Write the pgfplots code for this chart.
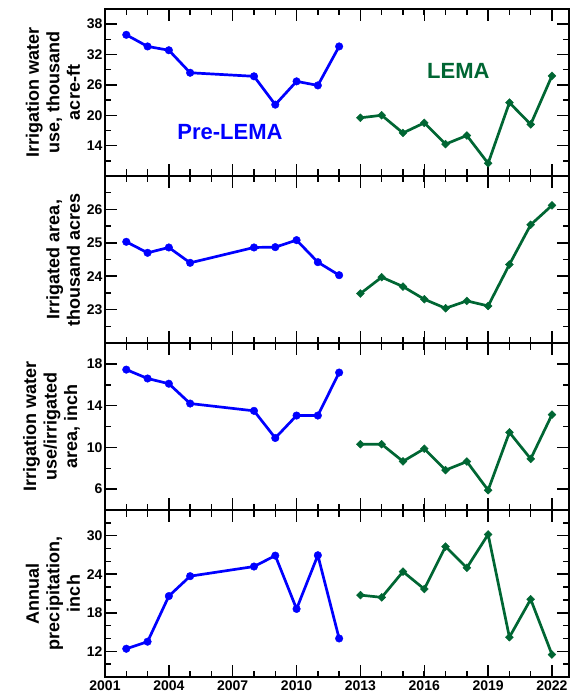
\documentclass[border=0pt]{standalone}
\usepackage{fontspec}
\setmainfont{Liberation Sans}
\usepackage{pgfplots}
\pgfplotsset{compat=1.18}
\usepgfplotslibrary{groupplots}
\definecolor{lemagreen}{RGB}{0,102,51}
\definecolor{preblue}{RGB}{0,0,255}
\begin{document}
\begin{tikzpicture}
\begin{groupplot}[
  group style={group name=G, group size=1 by 4, vertical sep=0pt, x descriptions at=edge bottom},
  width=464pt, height=167pt, scale only axis,
  xmin=2001, xmax=2022.8,
  xtick={2001,2004,...,2022}, minor xtick={2001,...,2022},
  tick align=inside, major tick length=12pt, minor tick length=6.5pt,
  axis line style={line width=2pt},
  tick style={line width=1.5pt, black},
  /pgf/number format/assume math mode=true,
  xticklabel={\textbf{\pgfmathprintnumber[assume math mode=true,1000 sep={}]{\tick}}},
  yticklabel={\textbf{\pgfmathprintnumber[assume math mode=true]{\tick}}},
  xticklabel style={font=\fontsize{14}{16}\selectfont\bfseries},
  yticklabel style={font=\fontsize{14}{16}\selectfont\bfseries, xshift=1pt},
  ylabel style={align=center, font=\fontsize{18}{20.5}\selectfont\bfseries},
  blueline/.style={preblue, line width=2.7pt, mark=*, mark size=3.8pt, mark options={solid, line width=0.4pt}},
  greenline/.style={lemagreen, line width=2.7pt, mark=square*, mark size=2.8pt, mark options={solid, rotate=45, line width=0.4pt}},
]
% Panel 1
\nextgroupplot[ymin=8, ymax=41, ytick={14,20,...,38}, minor ytick={11,17,...,41},
  ylabel={Irrigation water\\use, thousand\\acre-ft}]
\addplot[blueline] coordinates {(2002,35.9) (2003,33.6) (2004,32.85) (2005,28.4) (2008,27.7) (2009,22.1) (2010,26.7) (2011,25.9) (2012,33.6)};
\addplot[greenline] coordinates {(2013,19.5) (2014,20.0) (2015,16.5) (2016,18.5) (2017,14.3) (2018,16.0) (2019,10.5) (2020,22.5) (2021,18.2) (2022,27.8)};
\node[preblue, font=\fontsize{22}{24}\selectfont\bfseries] at (axis cs:2006.87,16.6) {Pre-LEMA};
\node[lemagreen, font=\fontsize{22}{24}\selectfont\bfseries] at (axis cs:2017.6,28.7) {LEMA};
% Panel 2
\nextgroupplot[ymin=22, ymax=27, ytick={23,24,25,26}, minor ytick={22.5,23.5,...,26.5},
  ylabel={Irrigated area,\\thousand acres}]
\addplot[blueline] coordinates {(2002,25.03) (2003,24.70) (2004,24.86) (2005,24.40) (2008,24.86) (2009,24.87) (2010,25.08) (2011,24.42) (2012,24.03)};
\addplot[greenline] coordinates {(2013,23.48) (2014,23.97) (2015,23.69) (2016,23.31) (2017,23.04) (2018,23.26) (2019,23.11) (2020,24.35) (2021,25.54) (2022,26.12)};
% Panel 3
\nextgroupplot[ymin=4, ymax=20, ytick={6,10,14,18}, minor ytick={8,12,16},
  ylabel={Irrigation water\\use/irrigated\\area, inch}]
\addplot[blueline] coordinates {(2002,17.45) (2003,16.6) (2004,16.1) (2005,14.2) (2008,13.5) (2009,10.9) (2010,13.05) (2011,13.05) (2012,17.17)};
\addplot[greenline] coordinates {(2013,10.3) (2014,10.3) (2015,8.66) (2016,9.87) (2017,7.82) (2018,8.64) (2019,5.9) (2020,11.44) (2021,8.9) (2022,13.14)};
% Panel 4
\nextgroupplot[ymin=8, ymax=34, ytick={12,18,24,30}, minor ytick={10,14,16,20,22,26,28,32},
  ylabel={Annual\\precipitation,\\inch}]
\addplot[blueline] coordinates {(2002,12.4) (2003,13.5) (2004,20.6) (2005,23.7) (2008,25.2) (2009,26.9) (2010,18.6) (2011,26.95) (2012,14.0)};
\addplot[greenline] coordinates {(2013,20.75) (2014,20.4) (2015,24.4) (2016,21.7) (2017,28.3) (2018,25.0) (2019,30.2) (2020,14.2) (2021,20.1) (2022,11.5)};
\end{groupplot}
\path ([shift={(-105pt,9pt)}]G c1r1.north west) rectangle ([shift={(8pt,-23pt)}]G c1r4.south east);
\end{tikzpicture}
\end{document}
